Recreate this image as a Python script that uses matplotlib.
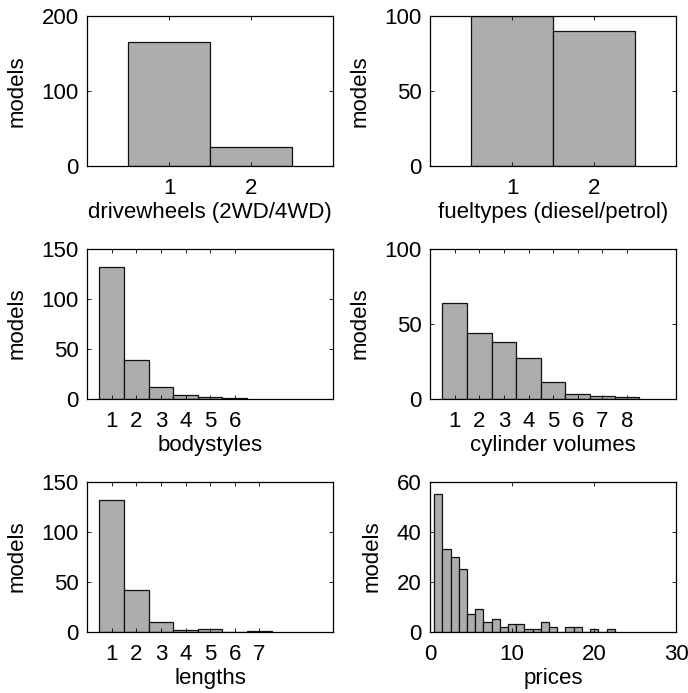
import matplotlib
matplotlib.use("Agg")
import matplotlib.pyplot as plt
import numpy as np

plt.rcParams['font.family'] = ['Liberation Sans', 'DejaVu Sans']

# Data
drive_cats = [1, 2]
drive_counts = [165, 25]
fuel_cats = [1, 2]
fuel_counts = [100, 90]
body_cats = [1, 2, 3, 4, 5, 6]
body_counts = [132, 39, 12, 4, 2, 1]
cyl_cats = [1, 2, 3, 4, 5, 6, 7, 8]
cyl_counts = [64, 44, 38, 27, 11, 3, 2, 1]
len_cats = [1, 2, 3, 4, 5, 6, 7]
len_counts = [132, 42, 10, 2, 3, 0, 1]
price_bins = list(range(1, 23))
price_counts = [55, 33, 30, 25, 7, 9, 4, 5, 2, 3, 3, 1, 1, 4, 2, 0, 2, 2, 0, 1, 0, 1]

panels = [
    dict(x=drive_cats, y=drive_counts, xlabel='drivewheels (2WD/4WD)', xlim=(0, 3), ylim=(0, 200),
         yticks=[0, 100, 200], xticks=[1, 2], pos=(0.1265, 0.7605)),
    dict(x=fuel_cats, y=fuel_counts, xlabel='fueltypes (diesel/petrol)', xlim=(0, 3), ylim=(0, 100),
         yticks=[0, 50, 100], xticks=[1, 2], pos=(0.625, 0.7605)),
    dict(x=body_cats, y=body_counts, xlabel='bodystyles', xlim=(0, 10), ylim=(0, 150),
         yticks=[0, 50, 100, 150], xticks=body_cats, pos=(0.1265, 0.4247)),
    dict(x=cyl_cats, y=cyl_counts, xlabel='cylinder volumes', xlim=(0, 10), ylim=(0, 100),
         yticks=[0, 50, 100], xticks=cyl_cats, pos=(0.625, 0.4247)),
    dict(x=len_cats, y=len_counts, xlabel='lengths', xlim=(0, 10), ylim=(0, 150),
         yticks=[0, 50, 100, 150], xticks=len_cats, pos=(0.1265, 0.0885)),
    dict(x=price_bins, y=price_counts, xlabel='prices', xlim=(0, 30), ylim=(0, 60),
         yticks=[0, 20, 40, 60], xticks=[0, 10, 20, 30], pos=(0.625, 0.0885)),
]

fig = plt.figure(figsize=(6.88, 6.93), dpi=100)
W, H = 0.358, 0.2165
for p in panels:
    ax = fig.add_axes([p['pos'][0], p['pos'][1], W, H])
    ax.bar(p['x'], p['y'], width=1.0, color='#adadad', edgecolor='#111111', linewidth=0.9)
    ax.set_xlim(*p['xlim'])
    ax.set_ylim(*p['ylim'])
    ax.set_xticks(p['xticks'])
    ax.set_yticks(p['yticks'])
    ax.tick_params(axis='both', direction='in', length=3, width=0.6, top=True, right=True,
                   labelsize=16)
    ax.tick_params(axis='x', pad=9)
    ax.tick_params(axis='y', pad=6)
    ax.set_xlabel(p['xlabel'], fontsize=16, labelpad=2)
    ax.set_ylabel('models', fontsize=16, labelpad=10)
    for s in ax.spines.values():
        s.set_linewidth(0.9)

fig.savefig('out.png', dpi=100, facecolor='white')
